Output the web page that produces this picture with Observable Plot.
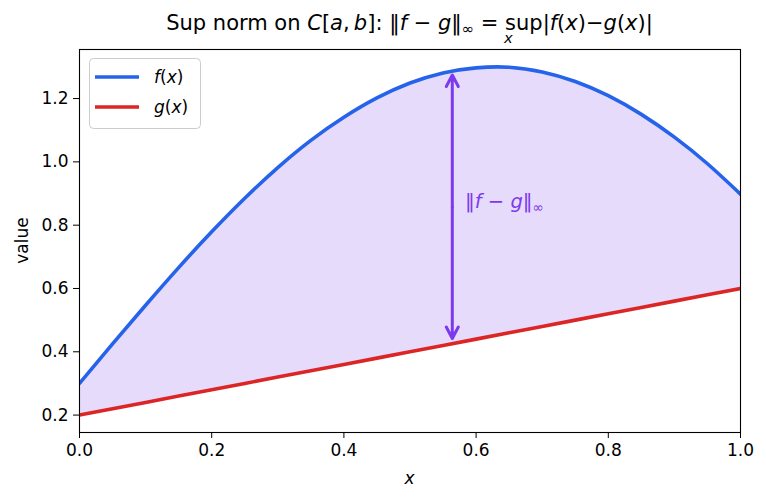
<!DOCTYPE html>
<html>
<head>
<meta charset="utf-8">
<script src="https://cdn.jsdelivr.net/npm/d3@7"></script>
<script src="https://cdn.jsdelivr.net/npm/@observablehq/plot@0.6"></script>
<style>
  html, body { margin: 0; padding: 0; background: white; }
  #chart { position: relative; width: 766px; height: 501px; }
  svg text { white-space: pre; }
</style>
</head>
<body>
<div id="chart"></div>
<script>
// ---- data ----
const xs = [0.00, 0.05, 0.10, 0.15, 0.20, 0.25, 0.30, 0.35, 0.40, 0.45, 0.50,
            0.55, 0.60, 0.65, 0.70, 0.75, 0.80, 0.85, 0.90, 0.95, 1.00];
const fVals = [0.300, 0.425, 0.547, 0.666, 0.779, 0.885, 0.982, 1.068, 1.141, 1.202, 1.249,
               1.281, 1.297, 1.299, 1.284, 1.254, 1.209, 1.150, 1.078, 0.994, 0.898];
const gVals = [0.20, 0.22, 0.24, 0.26, 0.28, 0.30, 0.32, 0.34, 0.36, 0.38, 0.40,
               0.42, 0.44, 0.46, 0.48, 0.50, 0.52, 0.54, 0.56, 0.58, 0.60];
const xTicks = [0.0, 0.2, 0.4, 0.6, 0.8, 1.0];
const yTicks = [0.2, 0.4, 0.6, 0.8, 1.0, 1.2];
const xDomain = [0, 1];
const yDomain = [0.145, 1.355];
const arrowX = [0.564];
const arrowLo = [0.426];
const arrowHi = [1.287];
const labelX = 0.584;
const seriesNames = ["f(x)", "g(x)"];

const FONT = "DejaVu Sans";
const BLUE = "#2563eb", RED = "#dc2626", PURPLE = "#7c3aed";

const data = xs.map((x, i) => ({x, f: fVals[i], g: gVals[i]}));
const arrowData = arrowX.map((x, i) => ({x, lo: arrowLo[i], hi: arrowHi[i], mid: (arrowLo[i] + arrowHi[i]) / 2}));

const plot = Plot.plot({
  width: 766, height: 501,
  marginLeft: 79, marginRight: 26, marginTop: 49, marginBottom: 69,
  style: {fontFamily: FONT, fontSize: "17px", background: "white", color: "black", overflow: "visible"},
  x: {domain: xDomain, label: null},
  y: {domain: yDomain, label: null},
  marks: [
    Plot.areaY(data, {x: "x", y1: "g", y2: "f", fill: PURPLE, fillOpacity: 0.18, curve: "natural"}),
    Plot.line(data, {x: "x", y: "f", stroke: BLUE, strokeWidth: 3.6, curve: "natural", clip: true}),
    Plot.line(data, {x: "x", y: "g", stroke: RED, strokeWidth: 3.6, clip: true}),
    Plot.arrow(arrowData, {x: "x", y1: "mid", y2: "hi", bend: 0, stroke: PURPLE, strokeWidth: 3,
      headLength: 6.5, headAngle: 55, insetEnd: 4}),
    Plot.arrow(arrowData, {x: "x", y1: "mid", y2: "lo", bend: 0, stroke: PURPLE, strokeWidth: 3,
      headLength: 6.5, headAngle: 55, insetEnd: 5}),
    Plot.frame({stroke: "black", strokeWidth: 1.1}),
    Plot.axisX({ticks: xTicks, tickFormat: d3.format(".1f"), tickSize: 6, tickPadding: 5, label: null, fontSize: 17}),
    Plot.axisY({ticks: yTicks, tickFormat: d3.format(".1f"), tickSize: 6, tickPadding: 5, label: null, fontSize: 17})
  ]
});

document.getElementById("chart").appendChild(plot);
const svg = d3.select(plot);
const xScale = plot.scale("x"), yScale = plot.scale("y");
const sx = v => xScale.apply(v), sy = v => yScale.apply(v);

// rich text helper: segments {t, it, scale, shift, under}
function richText(segs, {x, y, size, fill = "black", anchor = "start"}) {
  const t = svg.append("text").attr("x", x).attr("y", y)
    .attr("font-family", FONT).attr("font-size", size).attr("fill", fill)
    .attr("text-anchor", anchor).style("white-space", "pre");
  let cur = 0;
  const nodes = [];
  for (const s of segs) {
    const shift = s.shift || 0;
    const ts = t.append("tspan").text(s.t)
      .attr("font-style", s.it ? "italic" : "normal")
      .attr("font-size", s.scale ? size * s.scale : size)
      .attr("dy", shift - cur);
    cur = shift;
    nodes.push({s, ts});
  }
  for (let i = 0; i < nodes.length; i++) {
    if (nodes[i].s.under) {
      const pw = nodes[i - 1].ts.node().getComputedTextLength();
      const w = nodes[i].ts.node().getComputedTextLength();
      nodes[i].ts.attr("dx", -(pw / 2 + w / 2));
      if (nodes[i + 1]) nodes[i + 1].ts.attr("dx", pw / 2 - w / 2);
    }
  }
  return t;
}

// title
const cx = (xScale.range[0] + xScale.range[1]) / 2;
richText([
  {t: "Sup norm on "}, {t: "C", it: true}, {t: "["}, {t: "a", it: true}, {t: ",\u2009"}, {t: "b", it: true},
  {t: "]: ‖"}, {t: "f", it: true}, {t: " − "}, {t: "g", it: true}, {t: "‖"},
  {t: "∞", scale: 0.7, shift: 4}, {t: " = sup"}, {t: "x", it: true, scale: 0.7, shift: 13, under: true},
  {t: "|"}, {t: "f", it: true}, {t: "("}, {t: "x", it: true}, {t: ")−"}, {t: "g", it: true},
  {t: "("}, {t: "x", it: true}, {t: ")|"}
], {x: cx, y: 30, size: 21, anchor: "middle"});

// axis labels
svg.append("text").attr("x", cx).attr("y", 484).attr("text-anchor", "middle")
  .attr("font-family", FONT).attr("font-size", 17).attr("font-style", "italic").text("x");
const cy = (yScale.range[0] + yScale.range[1]) / 2;
svg.append("text").attr("transform", `translate(28,${cy}) rotate(-90)`).attr("text-anchor", "middle")
  .attr("font-family", FONT).attr("font-size", 17).text("value");

// annotation label
richText([
  {t: "‖"}, {t: "f", it: true}, {t: " − "}, {t: "g", it: true}, {t: "‖"}, {t: "∞", scale: 0.7, shift: 4}
], {x: sx(labelX), y: sy(arrowData[0].mid) + 1, size: 19.5, fill: PURPLE});

// legend
const lg = svg.append("g");
lg.append("rect").attr("x", 89.5).attr("y", 58.5).attr("width", 111).attr("height", 70).attr("rx", 4)
  .attr("fill", "white").attr("fill-opacity", 0.8).attr("stroke", "#cccccc").attr("stroke-width", 1);
const legColors = [BLUE, RED];
seriesNames.forEach((name, i) => {
  const yy = 77 + i * 30;
  lg.append("line").attr("x1", 95).attr("x2", 139).attr("y1", yy).attr("y2", yy)
    .attr("stroke", legColors[i]).attr("stroke-width", 3.6);
  const m = name.match(/^(\w)\((\w)\)$/);
  richText([{t: m[1], it: true}, {t: "("}, {t: m[2], it: true}, {t: ")"}],
    {x: 154, y: yy + 6, size: 17});
});
</script>
</body>
</html>
